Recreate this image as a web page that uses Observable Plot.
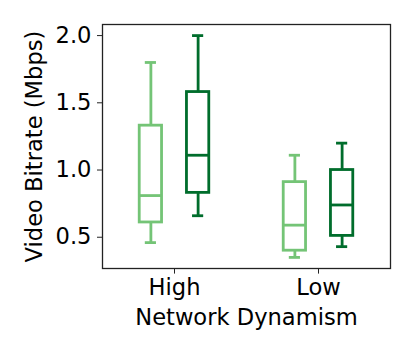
<!DOCTYPE html>
<html>
<head>
<meta charset="utf-8">
<script src="https://cdn.jsdelivr.net/npm/d3@7"></script>
<script src="https://cdn.jsdelivr.net/npm/@observablehq/plot@0.6"></script>
<style>
  html, body { margin: 0; padding: 0; background: #fff; }
  #chart svg { display: block; }
</style>
</head>
<body>
<div id="chart"></div>
<script>
// Categories and series
const groups = ["High", "Low"];
const series = ["light", "dark"];
const colors = ["#74c476", "#006d2c"];

// Box statistics per series, one value per group (High, Low)
const whiskerLow  = { light: [0.46, 0.35], dark: [0.66, 0.43] };
const q1          = { light: [0.61, 0.40], dark: [0.83, 0.51] };
const median      = { light: [0.81, 0.59], dark: [1.11, 0.74] };
const q3          = { light: [1.33, 0.91], dark: [1.58, 1.00] };
const whiskerHigh = { light: [1.80, 1.11], dark: [2.00, 1.20] };

const yTicks = [0.5, 1.0, 1.5, 2.0];

const offset = 0.164;   // group offset of each series
const boxW = 0.155;
const capW = boxW / 2;

const rows = [];
groups.forEach((g, gi) => {
  series.forEach((s, si) => {
    const pos = gi + (si === 0 ? -offset : offset);
    rows.push({
      group: g, series: s, pos,
      lo: whiskerLow[s][gi], q1: q1[s][gi], med: median[s][gi],
      q3: q3[s][gi], hi: whiskerHigh[s][gi]
    });
  });
});

const lw = 2.8;
const font = "DejaVu Sans, sans-serif";

const plot = Plot.plot({
  width: 415,
  height: 356,
  marginLeft: 102,
  marginRight: 25,
  marginTop: 24,
  marginBottom: 88,
  style: { fontFamily: font, fontSize: "22.6px", background: "#fff", color: "#000" },
  x: { domain: [-0.5, 1.5] },
  y: { domain: [0.2675, 2.0825] },
  color: { domain: series, range: colors },
  marks: [
    // whiskers
    Plot.ruleX(rows, { x: "pos", y1: "lo", y2: "q1", stroke: "series", strokeWidth: lw }),
    Plot.ruleX(rows, { x: "pos", y1: "q3", y2: "hi", stroke: "series", strokeWidth: lw }),
    // caps
    Plot.ruleY(rows, { y: "lo", x1: d => d.pos - capW / 2, x2: d => d.pos + capW / 2, stroke: "series", strokeWidth: lw }),
    Plot.ruleY(rows, { y: "hi", x1: d => d.pos - capW / 2, x2: d => d.pos + capW / 2, stroke: "series", strokeWidth: lw }),
    // boxes
    Plot.rect(rows, { x1: d => d.pos - boxW / 2, x2: d => d.pos + boxW / 2, y1: "q1", y2: "q3", fill: "none", stroke: "series", strokeWidth: lw }),
    // medians
    Plot.ruleY(rows, { y: "med", x1: d => d.pos - boxW / 2, x2: d => d.pos + boxW / 2, stroke: "series", strokeWidth: lw }),
    Plot.frame({ stroke: "#222", strokeWidth: 1.3 }),
    Plot.axisY({
      ticks: yTicks, tickFormat: d3.format(".1f"), tickSize: 5, tickPadding: 6,
      label: "Video Bitrate (Mbps)", labelAnchor: "center", labelArrow: "none", labelOffset: 77,
      stroke: "#222", fill: "#000"
    }),
    Plot.axisX({
      ticks: [0, 1], tickFormat: i => groups[i], tickSize: 5.6, tickPadding: 5,
      label: "Network Dynamism", labelAnchor: "center", labelArrow: "none", labelOffset: 56,
      stroke: "#222", fill: "#000"
    })
  ]
});

document.getElementById("chart").appendChild(plot);
</script>
</body>
</html>
